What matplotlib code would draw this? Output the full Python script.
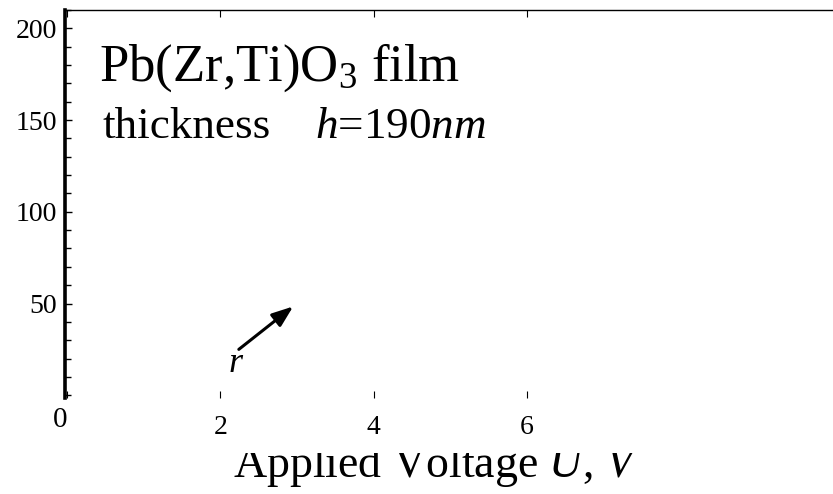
import matplotlib
matplotlib.use("Agg")
import matplotlib.pyplot as plt
from matplotlib.ticker import MultipleLocator
from matplotlib.transforms import Bbox

plt.rcParams['font.family'] = ['Liberation Serif', 'DejaVu Serif']
plt.rcParams['mathtext.fontset'] = 'custom'
plt.rcParams['mathtext.rm'] = 'Liberation Serif'
plt.rcParams['mathtext.it'] = 'Liberation Serif:italic'

# data
x_ticks = [0, 2, 4, 6]
x_tick_labels = ["0", "2", "4", "6"]
y_ticks = [50, 100, 150, 200]
y_tick_labels = ["50", "100", "150", "200"]
arrow_tail = (2.24, 25.0)
arrow_head = (2.95, 48.4)
r_label_pos = (2.2, 17.5)
title_text = r"Pb(Zr,Ti)O$_3$ film"
thick_word = "thickness"
thick_value = r"$h$=190$nm$"
xlabel_text = r"Applied Voltage $U$, $V$"

fig = plt.figure(figsize=(8.33, 4.94), dpi=100)
ax = fig.add_axes([65/833, 1 - 398/494, 1 - 65/833, (398 - 10)/494])
ax.set_xlim(-0.03, 10.0)
ax.set_ylim(-1.5, 210)

ax.spines['right'].set_visible(False)
ax.spines['bottom'].set_visible(False)
ax.spines['left'].set_linewidth(2.6)
ax.spines['top'].set_linewidth(1.0)

ax.set_xticks(x_ticks)
ax.set_xticklabels(x_tick_labels)
ax.set_yticks(y_ticks)
ax.set_yticklabels(y_tick_labels)
ax.yaxis.set_minor_locator(MultipleLocator(10))
ax.tick_params(axis='x', which='both', direction='in', top=True, bottom=True,
               length=5, width=0.8, labelsize=20, pad=12)
ax.tick_params(axis='y', which='major', direction='in', left=True, length=5,
               width=1.0, labelsize=20, pad=6)
ax.tick_params(axis='y', which='minor', direction='in', left=True, length=4, width=1.0)
zero_lbl = ax.get_xticklabels()[0]
zero_lbl.set_horizontalalignment('right')
zero_lbl.set_fontsize(21)
zero_lbl.set_y(0.02)

ax.text(0.42, 171.5, title_text, fontsize=38, ha='left', va='baseline')
ax.text(0.46, 140.2, thick_word, fontsize=32.5, ha='left', va='baseline')
ax.text(3.23, 140.2, thick_value, fontsize=32.5, ha='left', va='baseline')

ax.annotate("", xy=arrow_head, xytext=arrow_tail,
            arrowprops=dict(arrowstyle='-|>,head_width=0.3,head_length=0.8',
                            lw=2.2, color='black',
                            mutation_scale=16, shrinkA=0, shrinkB=0))
ax.text(r_label_pos[0], r_label_pos[1], r"$r$", fontsize=26, ha='center', va='center')

t = fig.text(436/833, 1 - 477/494, xlabel_text, fontsize=33, ha='center', va='baseline')
clip = Bbox.from_extents(0, 0, 833, 494 - 453)
t.set_clip_box(clip)
t.set_clip_on(True)

fig.savefig("out.png", dpi=100)
